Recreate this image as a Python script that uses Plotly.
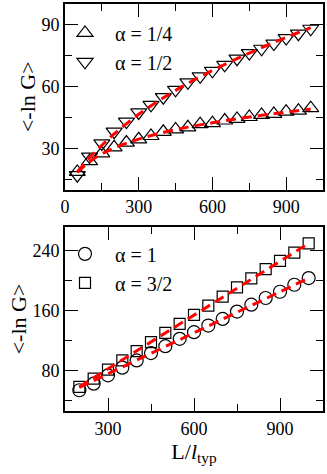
import plotly.graph_objects as go

# ---- data ----
L_top = [50, 100, 150, 200, 250, 300, 350, 400, 450, 500,
         550, 600, 650, 700, 750, 800, 850, 900, 950, 1000]
a14 = [18.6, 23.8, 27.6, 30.5, 32.8, 34.4, 36.0, 38.0, 39.2, 40.2,
       41.7, 42.2, 43.5, 44.3, 45.2, 46.2, 46.7, 47.8, 48.3, 49.5]
a12 = [17.0, 26.0, 32.4, 38.1, 43.0, 47.4, 51.1, 54.8, 58.4, 62.0,
       64.9, 67.6, 70.5, 73.5, 76.2, 78.3, 80.8, 83.5, 85.6, 88.0]

L_fit_top = [50, 100, 150, 200, 300, 400, 500, 600, 700, 800, 900, 1000]
fit14 = [18.3, 23.5, 27.3, 30.2, 34.5, 37.7, 40.3, 42.4, 44.3, 46.0, 47.6, 49.0]
fit12 = [18.5, 25.5, 31.5, 37.0, 46.5, 54.5, 61.5, 67.8, 73.5, 78.8, 83.8, 88.5]

L_bot = [200, 250, 300, 350, 400, 450, 500, 550, 600,
         650, 700, 750, 800, 850, 900, 950, 1000]
a1 = [53.3, 62.2, 73.3, 83.6, 93.3, 103.1, 112.4, 122.2, 131.1,
      140.0, 148.9, 158.7, 168.0, 176.9, 185.3, 194.7, 203.6]
a32 = [57.8, 68.9, 80.9, 93.3, 105.8, 117.8, 130.2, 142.2, 154.2,
       166.7, 178.7, 191.1, 203.1, 215.6, 226.7, 237.8, 250.2]

L_fit_bot = [200, 600, 1000]
fit1 = [57.0, 130.3, 203.5]
fit32 = [58.0, 154.0, 250.0]

top_xticks = [0, 300, 600, 900]
top_yticks = [30, 60, 90]
bot_xticks = [300, 600, 900]
bot_yticks = [80, 160, 240]

FONT = "Liberation Serif"
RED = "#ff0000"

fig = go.Figure()

mk = dict(color="rgba(0,0,0,0)", line=dict(color="black", width=1.2))

# top panel
fig.add_trace(go.Scatter(x=L_top, y=a14, mode="markers", name="  α = 1/4",
                         marker=dict(symbol="triangle-up", size=14, **mk),
                         xaxis="x", yaxis="y", legend="legend"))
fig.add_trace(go.Scatter(x=L_top, y=a12, mode="markers", name="  α = 1/2",
                         marker=dict(symbol="triangle-down", size=14, **mk),
                         xaxis="x", yaxis="y", legend="legend"))
fig.add_trace(go.Scatter(x=L_fit_top, y=fit14, mode="lines", showlegend=False,
                         line=dict(color=RED, width=3, dash="10px,6px", shape="spline"),
                         xaxis="x", yaxis="y"))
fig.add_trace(go.Scatter(x=L_fit_top, y=fit12, mode="lines", showlegend=False,
                         line=dict(color=RED, width=3, dash="10px,6px", shape="spline"),
                         xaxis="x", yaxis="y"))

# bottom panel
fig.add_trace(go.Scatter(x=L_bot, y=a1, mode="markers", name="  α = 1",
                         marker=dict(symbol="circle", size=13, **mk),
                         xaxis="x2", yaxis="y2", legend="legend2"))
fig.add_trace(go.Scatter(x=L_bot, y=a32, mode="markers", name="  α = 3/2",
                         marker=dict(symbol="square", size=11, **mk),
                         xaxis="x2", yaxis="y2", legend="legend2"))
fig.add_trace(go.Scatter(x=L_fit_bot, y=fit1, mode="lines", showlegend=False,
                         line=dict(color=RED, width=3, dash="10px,6px"),
                         xaxis="x2", yaxis="y2"))
fig.add_trace(go.Scatter(x=L_fit_bot, y=fit32, mode="lines", showlegend=False,
                         line=dict(color=RED, width=3, dash="10px,6px"),
                         xaxis="x2", yaxis="y2"))

minor_common = dict(ticks="inside", ticklen=7, tickwidth=1.2, tickcolor="black", tick0=0)
axis_common = dict(showline=True, linecolor="black", linewidth=2, mirror="allticks",
                   ticks="inside", ticklen=13, tickwidth=1.2, tickcolor="black",
                   showgrid=False, zeroline=False,
                   tickfont=dict(family=FONT, size=18, color="black"))

fig.update_layout(
    width=327, height=474,
    margin=dict(l=64.5, r=2.7, t=2, b=63.3),
    paper_bgcolor="white", plot_bgcolor="white",
    font=dict(family=FONT, color="black"),
    xaxis=dict(domain=[0, 1], anchor="y", range=[0, 1050],
               tickvals=top_xticks, ticktext=[str(v) for v in top_xticks],
               minor=dict(dtick=150, **minor_common),
               **axis_common),
    yaxis=dict(domain=[0.544, 1.0], anchor="x", range=[10, 100],
               tickvals=top_yticks, ticktext=[str(v) for v in top_yticks],
               minor=dict(dtick=15, **minor_common),
               title=dict(text="<-ln G>", font=dict(family=FONT, size=22), standoff=0),
               **axis_common),
    xaxis2=dict(domain=[0, 1], anchor="y2", range=[150, 1050],
                tickvals=bot_xticks, ticktext=[str(v) for v in bot_xticks],
                minor=dict(dtick=150, **minor_common),
                title=dict(text="L/<i>l</i><sub>typ</sub>", font=dict(family=FONT, size=22), standoff=4),
                **axis_common),
    yaxis2=dict(domain=[0.0, 0.452], anchor="x2", range=[25.5, 272],
                tickvals=bot_yticks, ticktext=[str(v) for v in bot_yticks],
                minor=dict(dtick=40, **minor_common),
                title=dict(text="<-ln G>", font=dict(family=FONT, size=22), standoff=0),
                **axis_common),
    legend=dict(x=0.0, y=0.977, xanchor="left", yanchor="top",
                bgcolor="rgba(0,0,0,0)", font=dict(family=FONT, size=20),
                tracegroupgap=0),
    legend2=dict(x=0.0, y=0.434, xanchor="left", yanchor="top",
                 bgcolor="rgba(0,0,0,0)", font=dict(family=FONT, size=20),
                 tracegroupgap=0),
    showlegend=True,
)

fig.write_html("out.html", config={"displayModeBar": False},
               post_script="document.body.style.margin='0';document.body.style.overflow='hidden';")
